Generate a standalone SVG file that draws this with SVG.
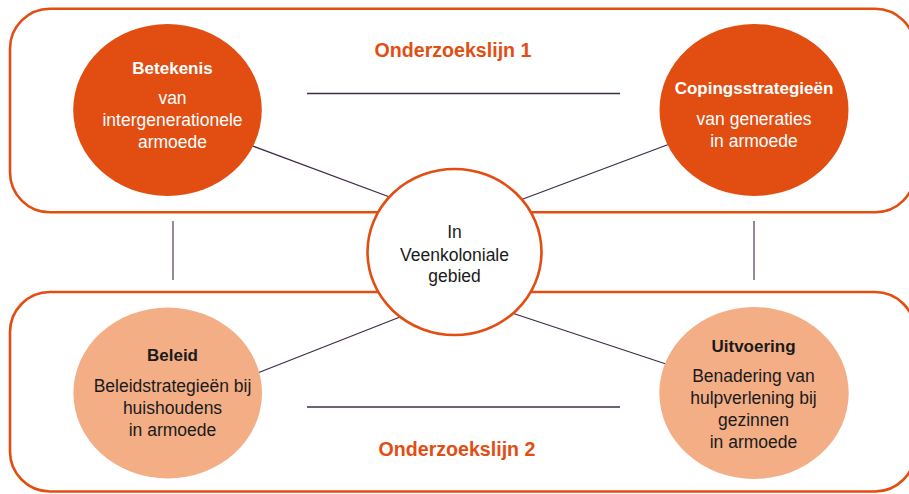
<svg xmlns="http://www.w3.org/2000/svg" width="909" height="494" viewBox="0 0 909 494">
<style>
.frame{fill:none;stroke:#e24e12;stroke-width:2.6}
.conn{stroke:#3e2c4a;stroke-width:1.3;fill:none}
.vconn{stroke:#7c6b7f;stroke-width:1.6;fill:none}
.dark{fill:#e24e12}
.light{fill:#f3ae86}
.center{fill:#ffffff;stroke:#e24e12;stroke-width:2.6}
text{font-family:"Liberation Sans",Arial,sans-serif;text-anchor:middle}
.title{font-weight:bold;font-size:17px}
.body{font-size:17.5px}
.w{fill:#ffffff}
.k{fill:#1a1a1a}
.line{font-weight:bold;font-size:19.6px;fill:#e24e12}
</style>
<rect class="frame" x="10" y="8.7" width="905" height="203.6" rx="40"/>
<rect class="frame" x="10" y="292" width="905" height="199.5" rx="40"/>
<text class="line" x="453" y="57">Onderzoekslijn 1</text>
<text class="line" x="457" y="456">Onderzoekslijn 2</text>
<g id="connectors">
<line class="conn" x1="307" y1="93.5" x2="620" y2="93.5"/>
<line class="conn" x1="307" y1="407" x2="620" y2="407"/>
<line class="vconn" x1="173" y1="221" x2="173" y2="280"/>
<line class="vconn" x1="754" y1="221" x2="754" y2="280"/>
<line class="conn" x1="250" y1="145" x2="395" y2="199"/>
<line class="conn" x1="675" y1="142" x2="515" y2="202"/>
<line class="conn" x1="255" y1="374" x2="400" y2="317"/>
<line class="conn" x1="672" y1="366" x2="512" y2="313"/>
</g>
<g id="betekenis">
<ellipse class="dark" cx="167.5" cy="110" rx="94.3" ry="86"/>
<text class="title w" x="172.5" y="73.5">Betekenis</text>
<text class="body w" x="172.5" y="104">van</text>
<text class="body w" x="172.5" y="126">intergenerationele</text>
<text class="body w" x="172.5" y="148">armoede</text>
</g>
<g id="copingsstrategieen">
<ellipse class="dark" cx="754" cy="110" rx="94.5" ry="86"/>
<text class="title w" x="754" y="93.5">Copingsstrategieën</text>
<text class="body w" x="754" y="124.5">van generaties</text>
<text class="body w" x="754" y="146.5">in armoede</text>
</g>
<g id="beleid">
<ellipse class="light" cx="167.7" cy="393" rx="94.3" ry="85.5"/>
<text class="title k" x="172.5" y="360.5">Beleid</text>
<text class="body k" x="172.5" y="391.5">Beleidstrategieën bij</text>
<text class="body k" x="172.5" y="413.5">huishoudens</text>
<text class="body k" x="172.5" y="435.5">in armoede</text>
</g>
<g id="uitvoering">
<ellipse class="light" cx="754" cy="393" rx="94.7" ry="86"/>
<text class="title k" x="753.5" y="351.5">Uitvoering</text>
<text class="body k" x="753.5" y="382">Benadering van</text>
<text class="body k" x="753.5" y="404">hulpverlening bij</text>
<text class="body k" x="753.5" y="426">gezinnen</text>
<text class="body k" x="753.5" y="448">in armoede</text>
</g>
<g id="veenkoloniale">
<ellipse class="center" cx="454.5" cy="252" rx="87" ry="83"/>
<text class="body k" x="454.5" y="238">In</text>
<text class="body k" x="454.5" y="260.5">Veenkoloniale</text>
<text class="body k" x="454.5" y="282">gebied</text>
</g>
</svg>
